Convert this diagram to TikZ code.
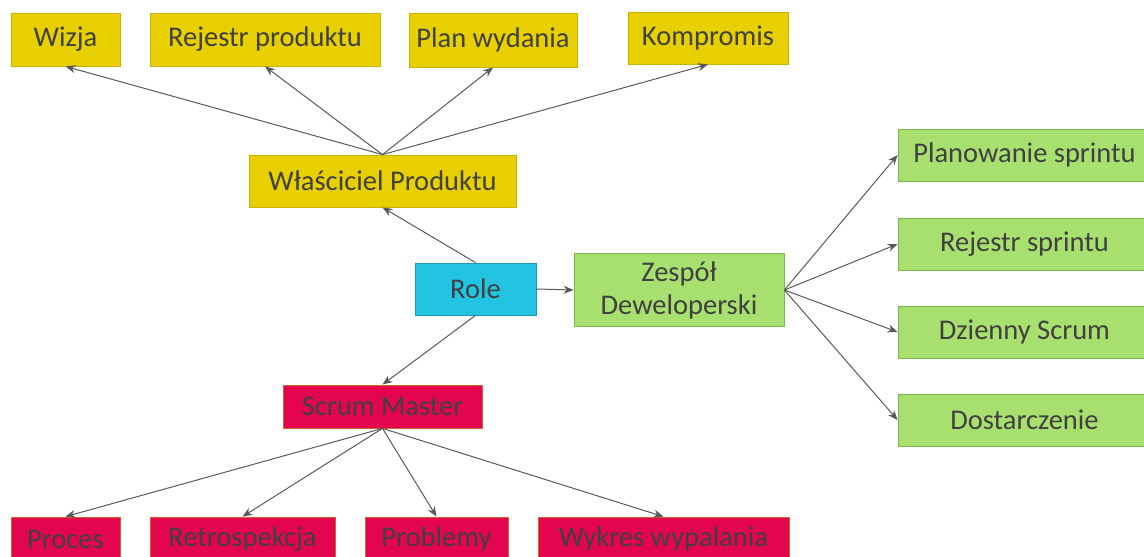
\documentclass[tikz,border=0pt]{standalone}
\usepackage{fontspec}
\setmainfont{Carlito}
\usetikzlibrary{arrows.meta}
\definecolor{txt}{HTML}{404040}
\definecolor{linkgray}{HTML}{595959}
\definecolor{ownerfill}{HTML}{E8CF00}
\definecolor{ownerline}{HTML}{C8B200}
\definecolor{rolefill}{HTML}{22C4E2}
\definecolor{roleline}{HTML}{1A98B4}
\definecolor{teamfill}{HTML}{A8E06F}
\definecolor{teamline}{HTML}{7EB552}
\definecolor{masterfill}{HTML}{E3064F}
\definecolor{masterline}{HTML}{D2642C}
\tikzset{
    box/.style = {rectangle, draw, line width = .8, text = txt, inner sep = 0, align = center,
        font = \fontsize{28.5}{33}\selectfont},
    ownerbox/.style = {box, fill = ownerfill, draw = ownerline},
    rolebox/.style = {box, fill = rolefill, draw = roleline},
    teambox/.style = {box, fill = teamfill, draw = teamline},
    masterbox/.style = {box, fill = masterfill, draw = masterline},
    link/.style = {draw = linkgray, line width = 1, -{Stealth[length = 10, width = 8]}}
}
\begin{document}
\begin{tikzpicture}[x = 1pt, y = -1pt]
        \useasboundingbox (0, 0) rectangle (1144, 557);
        \clip (0, 0) rectangle (1144, 557);
        % centre
        \node [rolebox, minimum width = 121, minimum height = 52] (role) at (475.5, 289) {Role};
        \node [ownerbox, minimum width = 267, minimum height = 52] (owner) at (382.5, 181) {Właściciel Produktu};
        \node [teambox, minimum width = 210, minimum height = 73] (team) at (679, 290) {Zespół\\Deweloperski};
        \node [masterbox, minimum width = 199, minimum height = 43] (master) at (382.5, 406.5) {Scrum Master};
        % top row
        \node [ownerbox, minimum width = 109, minimum height = 53] (vision) at (65.5, 39.5) {Wizja};
        \node [ownerbox, minimum width = 230, minimum height = 53] (backlog) at (265, 39.5) {Rejestr produktu};
        \node [ownerbox, minimum width = 168, minimum height = 54] (release) at (493, 40) {Plan wydania};
        \node [ownerbox, minimum width = 160, minimum height = 52] (tradeoff) at (708, 38) {Kompromis};
        % right column
        \node [teambox, minimum width = 253, minimum height = 52] (planning) at (1024.5, 155) {Planowanie sprintu};
        \node [teambox, minimum width = 253, minimum height = 52] (sprintlog) at (1024.5, 244) {Rejestr sprintu};
        \node [teambox, minimum width = 253, minimum height = 52] (daily) at (1024.5, 332) {Dzienny Scrum};
        \node [teambox, minimum width = 253, minimum height = 52] (delivery) at (1024.5, 420) {Dostarczenie};
        % bottom row
        \node [masterbox, minimum width = 109, minimum height = 44] (process) at (65.5, 539) {Proces};
        \node [masterbox, minimum width = 185, minimum height = 44] (retro) at (242.5, 539) {Retrospekcja};
        \node [masterbox, minimum width = 143, minimum height = 44] (issues) at (436.5, 539) {Problemy};
        \node [masterbox, minimum width = 251, minimum height = 44] (burndown) at (663.5, 539) {Wykres wypalania};
        % links
        \draw [link] (role.north) -- (owner.south);
        \draw [link] (role.east) -- (team.west);
        \draw [link] (role.south) -- (master.north);
        \foreach \t in {vision, backlog, release, tradeoff}
            \draw [link] (owner.north) -- (\t.south);
        \foreach \t in {planning, sprintlog, daily, delivery}
            \draw [link] (team.east) -- (\t.west);
        \foreach \t in {process, retro, issues, burndown}
            \draw [link] (master.south) -- (\t.north);
    \end{tikzpicture}
\end{document}
